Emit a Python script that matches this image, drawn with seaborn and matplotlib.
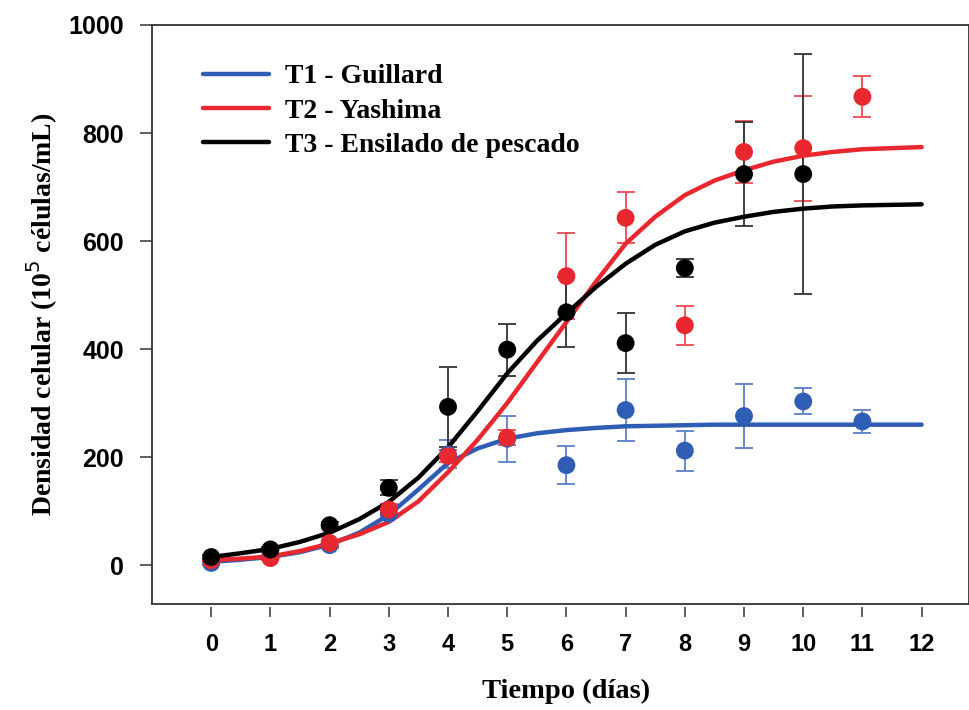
import numpy as np
import pandas as pd
import matplotlib
matplotlib.use("Agg")
import matplotlib.pyplot as plt
import seaborn as sns

# ---------------- Data ----------------
days = [0, 1, 2, 3, 4, 5, 6, 7, 8, 9, 10, 11]

t1_mean = [4, 15, 37, 95, 205, 234, 185, 287, 212, 276, 303, 266]
t1_err = [3, 3, 5, 8, 26, 43, 35, 58, 37, 60, 24, 22]

t2_mean = [9, 13, 41, 103, 202, 236, 535, 643, 444, 765, 772, 867]
t2_err = [3, 3, 5, 10, 12, 14, 80, 47, 36, 58, 97, 38]

t3_mean = [15, 29, 74, 143, 293, 399, 468, 411, 550, 724, 724, np.nan]
t3_err = [3, 4, 6, 14, 74, 48, 65, 55, 16, 96, 222, np.nan]

# fitted curves, read at half-day steps
curve_t = [0, 0.5, 1, 1.5, 2, 2.5, 3, 3.5, 4, 4.5, 5, 5.5, 6, 6.5, 7, 7.5,
           8, 8.5, 9, 9.5, 10, 10.5, 11, 11.5, 12]
t1_fit = [6, 10, 15, 24, 38, 60, 93, 140, 189, 216, 234, 244, 250, 254, 257, 258,
          259, 260, 260, 260, 260, 260, 260, 260, 260]
t2_fit = [9, 12, 16, 26, 40, 57, 80, 118, 172, 232, 300, 375, 450, 525, 595, 645,
          685, 712, 731, 747, 758, 765, 770, 772, 774]
t3_fit = [15, 22, 30, 43, 60, 85, 117, 162, 218, 285, 355, 415, 466, 515, 558, 593,
          618, 634, 645, 654, 660, 664, 666, 667, 668]

labels = ["T1 - Guillard", "T2 - Yashima", "T3 - Ensilado de pescado"]
colors = ["#2f5cb4", "#e8282e", "#000000"]
err_colors = ["#5b7fcc", "#ee4a4f", "#333333"]

# ---------------- Plot ----------------
sns.set_style("white")
plt.rcParams["font.family"] = ["Liberation Serif", "DejaVu Serif"]
plt.rcParams["text.color"] = "black"
plt.rcParams["axes.labelcolor"] = "black"
plt.rcParams["xtick.labelcolor"] = "black"
plt.rcParams["ytick.labelcolor"] = "black"

fig = plt.figure(figsize=(9.7, 7.1), dpi=100)
ax = fig.add_axes([152 / 970, 1 - 604 / 710, 817 / 970, 579 / 710])

means = [t1_mean, t2_mean, t3_mean]
errs = [t1_err, t2_err, t3_err]
fits = [t1_fit, t2_fit, t3_fit]

for m, e, ec in zip(means, errs, err_colors):
    ax.errorbar(days, m, yerr=e, fmt="none", ecolor=ec, elinewidth=1.3,
                capsize=6.5, capthick=1.3, zorder=2)

for f, c, lab in zip(fits, colors, labels):
    sns.lineplot(x=curve_t, y=f, color=c, linewidth=3.2, label=lab, ax=ax,
                 zorder=3, solid_capstyle="round")

for m, c in zip(means, colors):
    sns.scatterplot(x=days, y=m, color=c, s=165, edgecolor="none", ax=ax,
                    zorder=4, legend=False)

ax.set_xlim(-1.0, 12.8)
ax.set_ylim(-72, 1000)

for side in ["left", "top", "right", "bottom"]:
    ax.spines[side].set_color("#333333")
    ax.spines[side].set_linewidth(1.3)

ax.set_yticks([0, 200, 400, 600, 800, 1000])
ax.tick_params(axis="y", direction="out", length=9, width=1.1, color="#333333",
               pad=11, left=True, labelcolor="black")
for t in ax.get_yticklabels():
    t.set_fontfamily(["Liberation Sans", "DejaVu Sans"])
    t.set_fontweight("bold")
    t.set_fontsize(18)

# x ticks on a slightly offset axis, like the original
ax.tick_params(axis="x", bottom=False, labelbottom=False)
sec = ax.secondary_xaxis(-0.005)
sec.spines["bottom"].set_visible(False)
sec.set_xticks(range(0, 13))
sec.tick_params(axis="x", direction="out", length=7, width=1.1, color="#333333",
                pad=12, labelcolor="black")
for t in sec.get_xticklabels():
    t.set_fontfamily(["Liberation Sans", "DejaVu Sans"])
    t.set_fontweight("bold")
    t.set_fontsize(17)

ax.set_ylabel(r"Densidad celular (10$^{5}$ células/mL)", fontsize=20,
              fontweight="bold", labelpad=6, color="black")
fig.text(566 / 970, 1 - 691 / 710, "Tiempo (días)", fontsize=20.5,
         fontweight="bold", ha="center", va="center", color="black")

leg = ax.legend(loc="upper left", bbox_to_anchor=(0.045, 0.957), frameon=False,
                borderpad=0, handlelength=2.4, handletextpad=0.55,
                labelspacing=0.32,
                prop={"family": "Liberation Serif", "weight": "bold", "size": 20})
for t in leg.get_texts():
    t.set_color("black")

fig.savefig("out.png", dpi=100)
